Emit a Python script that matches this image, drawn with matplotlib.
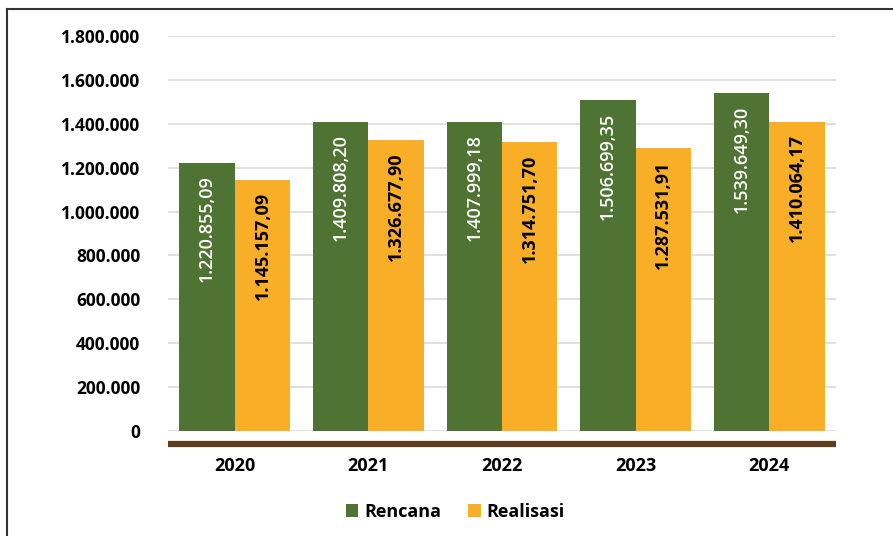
import matplotlib.pyplot as plt
import numpy as np
from matplotlib.lines import Line2D

years = ['2020', '2021', '2022', '2023', '2024']
rencana = [1220855.09, 1409808.20, 1407999.18, 1506699.35, 1539649.30]
realisasi = [1145157.09, 1326677.90, 1314751.70, 1287531.91, 1410064.17]
rencana_lbl = ['1.220.855,09', '1.409.808,20', '1.407.999,18', '1.506.699,35', '1.539.649,30']
realisasi_lbl = ['1.145.157,09', '1.326.677,90', '1.314.751,70', '1.287.531,91', '1.410.064,17']
yticks = [0, 200000, 400000, 600000, 800000, 1000000, 1200000, 1400000, 1600000, 1800000]
ytick_lbl = ['0', '200.000', '400.000', '600.000', '800.000', '1.000.000',
             '1.200.000', '1.400.000', '1.600.000', '1.800.000']

plt.rcParams['font.family'] = ['Open Sans', 'DejaVu Sans']
green = '#4E7332'
orange = '#F9AE27'
brown = '#603D1F'

fig = plt.figure(figsize=(8.93, 5.36), dpi=100)
ax = fig.add_axes([168/893, 1-431/536, (836-168)/893, (431-36)/536])

# spine first: moving it resets the tick labels
for s in ['top', 'right', 'left']:
    ax.spines[s].set_visible(False)
ax.spines['bottom'].set_position(('outward', 9))
ax.spines['bottom'].set_color(brown)
ax.spines['bottom'].set_linewidth(4.5)
ax.spines['bottom'].set_capstyle('butt')

x = np.arange(len(years))
w = 0.415
b1 = ax.bar(x - w/2, rencana, w, color=green, label='Rencana', zorder=3)
b2 = ax.bar(x + w/2, realisasi, w, color=orange, label='Realisasi', zorder=3)

for i in range(len(years)):
    ax.annotate(rencana_lbl[i], (x[i] - w/2, rencana[i]), xytext=(0, -9),
                textcoords='offset points', rotation=90, ha='center', va='top',
                color='white', fontsize=13, fontweight='semibold', zorder=4)
    ax.annotate(realisasi_lbl[i], (x[i] + w/2, realisasi[i]), xytext=(0, -9),
                textcoords='offset points', rotation=90, ha='center', va='top',
                color='black', fontsize=13, fontweight='bold', zorder=4)

ax.set_xlim(-0.5, 4.5)
ax.set_ylim(0, 1800000)
ax.set_yticks(yticks)
ax.set_yticklabels(ytick_lbl, fontsize=12.5, fontweight='bold')
ax.set_xticks(x)
ax.set_xticklabels(years, fontsize=13, fontweight='bold')
ax.tick_params(axis='y', length=0, pad=20)
ax.tick_params(axis='x', length=0, pad=10)
ax.yaxis.grid(True, color='#DADADA', linewidth=1.2, zorder=0)

leg = fig.legend(handles=[b1, b2], loc='center', bbox_to_anchor=(455/893, 1-512/536),
                 ncol=2, frameon=False, prop={'size': 13, 'weight': 'bold'},
                 handlelength=0.7, handleheight=0.7, handletextpad=0.3, columnspacing=1.5)

# frame around the figure
fig.add_artist(Line2D([7/893, 7/893], [0, 1-9/536], color='#333333', linewidth=1.5))
fig.add_artist(Line2D([7/893, 1], [1-9/536, 1-9/536], color='#333333', linewidth=1.5))

plt.savefig('out.png', dpi=100)
